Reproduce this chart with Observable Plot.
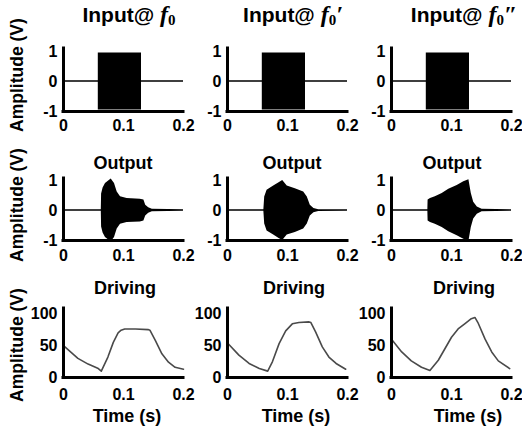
<!DOCTYPE html>
<html><head><meta charset="utf-8">
<script src="https://cdn.jsdelivr.net/npm/d3@7"></script>
<script src="https://cdn.jsdelivr.net/npm/@observablehq/plot@0.6"></script>
<style>
body{margin:0;background:#fff}
#fig{position:relative;width:522px;height:432px;overflow:hidden;background:#fff;font-family:"Liberation Sans",Arial,sans-serif;font-weight:bold;color:#000}
.lbl{position:absolute;transform:translate(-50%,-50%);white-space:nowrap;font-size:18px;line-height:1}
.ttl{font-size:21px}
.yl{position:absolute;transform:translate(-50%,-50%) rotate(-90deg);white-space:nowrap;font-size:17.5px;line-height:1}
.m{font-family:"Liberation Serif","Times New Roman",serif;font-style:italic;font-size:24px}
.m sub{font-size:15px;vertical-align:-3px;font-style:normal}
</style></head><body><div id="fig"></div>
<script>
// ---- data ----
const xTicks = [0, 0.1, 0.2];
const ampTicks = [-1, 0, 1];
const drvTicks = [0, 50, 100];

// input burst envelope (same for all three frequencies)
const inputT   = [0, 0.058, 0.058, 0.13, 0.13, 0.2];
const inputEnv = [0.025, 0.025, 0.95, 0.95, 0.025, 0.025];

// output envelopes
const out1T   = [0, 0.063, 0.0635, 0.066, 0.07, 0.0795, 0.085, 0.0895, 0.095, 0.106, 0.128, 0.134, 0.137, 0.142, 0.148, 0.2];
const out1Env = [0.025, 0.025, 0.55, 0.75, 0.9, 1.05, 0.9, 0.62, 0.46, 0.4, 0.38, 0.35, 0.18, 0.09, 0.04, 0.025];
const out2T   = [0, 0.0606, 0.062, 0.066, 0.077, 0.086, 0.092, 0.0995, 0.113, 0.127, 0.133, 0.138, 0.144, 0.152, 0.2];
const out2Env = [0.025, 0.025, 0.45, 0.68, 0.82, 0.93, 1.0, 0.82, 0.73, 0.62, 0.45, 0.18, 0.07, 0.03, 0.025];
const out3T   = [0, 0.0606, 0.061, 0.065, 0.073, 0.0845, 0.0955, 0.1095, 0.1205, 0.129, 0.133, 0.137, 0.143, 0.151, 0.2];
const out3Env = [0.025, 0.025, 0.35, 0.4, 0.46, 0.57, 0.71, 0.84, 0.96, 1.03, 0.57, 0.28, 0.12, 0.04, 0.025];

// driving amplitude curves
const drv1T = [0, 0.024, 0.041, 0.058, 0.063, 0.074, 0.083, 0.091, 0.096, 0.102, 0.12, 0.141, 0.144, 0.153, 0.164, 0.175, 0.186, 0.2];
const drv1V = [50, 30, 21, 14, 10, 32, 55, 70, 74, 76, 76, 75, 74, 58, 37, 24, 16, 13];
const drv2T = [0, 0.019, 0.036, 0.053, 0.067, 0.075, 0.086, 0.097, 0.108, 0.119, 0.136, 0.139, 0.147, 0.158, 0.169, 0.181, 0.197];
const drv2V = [54, 35, 22, 14, 10, 25, 53, 73, 84, 86, 87, 86, 71, 48, 32, 22, 13];
const drv3T = [0, 0.017, 0.033, 0.05, 0.064, 0.078, 0.089, 0.1, 0.111, 0.122, 0.133, 0.139, 0.144, 0.156, 0.167, 0.178, 0.197];
const drv3V = [60, 40, 26, 16, 11, 27, 45, 63, 76, 84, 92, 94, 86, 60, 40, 26, 14];

// ---- layout ----
const fig = document.getElementById("fig");
const colX0 = [63, 227, 391];
const rows = [
  {top: 48, h: 63, domain: [-1, 1.1], ticks: ampTicks, pad: 8},
  {top: 178, h: 62, domain: [-1, 1.07], ticks: ampTicks, pad: 9},
  {top: 308, h: 69, domain: [0, 108], ticks: drvTicks, pad: 11}
];
const ML = 45, MR = 10, MT = 10, MB = 30;

function zip(t, v) { return t.map((x, i) => ({t: x, v: v[i]})); }

function panel(col, row, marks) {
  const r = rows[row];
  const svg = Plot.plot({
    width: ML + 120 + MR,
    height: MT + r.h + MB,
    marginLeft: ML, marginRight: MR, marginTop: MT, marginBottom: MB,
    x: {domain: [0, 0.2], ticks: xTicks, tickFormat: String, tickSize: 0, tickPadding: r.pad, label: null},
    y: {domain: r.domain, ticks: r.ticks, tickFormat: String, tickSize: 0, tickPadding: 6, label: null},
    style: {background: "transparent", fontFamily: "'Liberation Sans', Arial, sans-serif", fontSize: "16px", fontWeight: "bold", color: "#000", overflow: "visible"},
    marks: [
      ...marks,
      Plot.ruleX([0], {y1: r.domain[0], y2: r.domain[1], stroke: "#000", strokeWidth: 3, strokeLinecap: "square"}),
      Plot.ruleY([r.domain[0]], {x1: 0, x2: 0.2, stroke: "#000", strokeWidth: 3, strokeLinecap: "square"})
    ]
  });
  svg.style.position = "absolute";
  svg.style.left = (colX0[col] - ML) + "px";
  svg.style.top = (r.top - MT) + "px";
  svg.style.maxWidth = "none";
  fig.appendChild(svg);
}

function burst(t, env) {
  const d = zip(t, env);
  return [Plot.areaY(d, {x: "t", y1: d => -d.v, y2: "v", fill: "#000", curve: "linear"})];
}
function drive(t, v) {
  return [Plot.line(zip(t, v), {x: "t", y: "v", stroke: "#4a4a4a", strokeWidth: 1.6, curve: "linear"})];
}

for (let c = 0; c < 3; c++) panel(c, 0, burst(inputT, inputEnv));
panel(0, 1, burst(out1T, out1Env));
panel(1, 1, burst(out2T, out2Env));
panel(2, 1, burst(out3T, out3Env));
panel(0, 2, drive(drv1T, drv1V));
panel(1, 2, drive(drv2T, drv2V));
panel(2, 2, drive(drv3T, drv3V));

// ---- texts ----
function label(html, x, y, cls) {
  const d = document.createElement("div");
  d.className = cls || "lbl";
  d.style.left = x + "px";
  d.style.top = y + "px";
  d.innerHTML = html;
  fig.appendChild(d);
}
const primes = ["", "′", "″"];
const topX = [129, 293, 464];
for (let c = 0; c < 3; c++) {
  label('Input@ <span class="m">f<sub>0</sub>' + primes[c] + '</span>', topX[c], 15, "lbl ttl");
}
[123, 292, 452].forEach(x => label("Output", x, 163));
[125, 294, 464].forEach(x => label("Driving", x, 288));
[127, 296, 468].forEach(x => label("Time (s)", x, 416));
[75, 205, 345].forEach(y => label("Amplitude (V)", 18, y, "yl"));
</script></body></html>
